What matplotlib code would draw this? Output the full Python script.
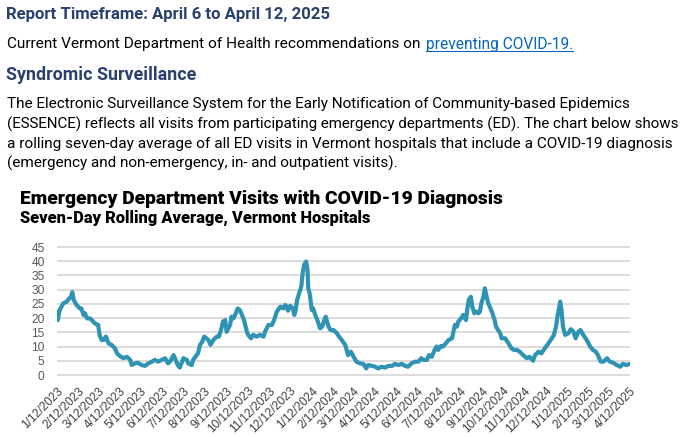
import matplotlib
matplotlib.use("Agg")
import matplotlib.pyplot as plt
from matplotlib.lines import Line2D
import pandas as pd

W, H = 681, 437

# text of the page above the chart
report_title = "Report Timeframe: April 6 to April 12, 2025"
recs_text = "Current Vermont Department of Health recommendations on"
recs_link = "preventing COVID-19."
section_title = "Syndromic Surveillance"
paragraph = [
    "The Electronic Surveillance System for the Early Notification of Community-based Epidemics",
    "(ESSENCE) reflects all visits from participating emergency departments (ED). The chart below shows",
    "a rolling seven-day average of all ED visits in Vermont hospitals that include a COVID-19 diagnosis",
    "(emergency and non-emergency, in- and outpatient visits).",
]
chart_title = "Emergency Department Visits with COVID-19 Diagnosis"
chart_subtitle = "Seven-Day Rolling Average, Vermont Hospitals"

# series: days after 1/12/2023, seven-day average of ED visits
start = pd.Timestamp("2023-01-12")
day = [0, 1, 4, 9, 14, 16, 20, 22, 24, 28, 33, 35, 38, 40, 43, 47, 50, 54, 59, 61,
       64, 67, 70, 74, 78, 83, 86, 90, 95, 100, 105, 107, 112, 116, 121, 126, 131, 136, 140, 145,
       150, 155, 159, 162, 167, 169, 173, 176, 181, 186, 188, 193, 195, 200, 202, 205, 208, 211, 214, 217,
       220, 224, 229, 232, 235, 238, 241, 243, 248, 250, 253, 255, 259, 262, 265, 268, 272, 274, 278, 281,
       286, 291, 296, 298, 303, 308, 311, 315, 320, 324, 327, 329, 331, 334, 338, 340, 342, 344, 347, 350,
       352, 354, 357, 359, 360, 362, 365, 367, 370, 373, 377, 380, 383, 385, 389, 392, 396, 401, 404, 408,
       413, 417, 421, 425, 429, 434, 439, 443, 446, 451, 456, 460, 465, 470, 475, 480, 484, 489, 494, 499,
       503, 508, 513, 518, 522, 525, 530, 533, 537, 541, 544, 546, 550, 553, 557, 561, 566, 568, 570, 573,
       575, 579, 582, 586, 588, 590, 593, 595, 598, 601, 604, 606, 608, 611, 613, 616, 618, 620, 623, 627,
       629, 632, 635, 637, 642, 647, 651, 655, 659, 663, 668, 673, 677, 682, 685, 690, 694, 699, 704, 709,
       712, 715, 717, 721, 723, 725, 728, 733, 736, 740, 743, 747, 750, 754, 759, 764, 768, 772, 775, 779,
       783, 788, 792, 797, 802, 807, 811, 816, 821]
visits = [22.0, 19.3, 22.9, 25.2, 25.8, 26.5, 27.5, 29.1, 26.4, 24.6, 23.4, 23.4, 21.1, 21.7, 19.9, 19.9, 19.3, 18.2, 17.6, 14.1,
          12.3, 12.3, 13.5, 11.1, 10.6, 9.4, 7.6, 6.7, 5.9, 6.4, 5.3, 3.5, 4.1, 4.3, 3.5, 3.2, 4.1, 4.7, 5.3, 4.7,
          5.3, 5.9, 4.1, 4.7, 7.0, 5.9, 3.5, 2.6, 5.9, 5.3, 4.1, 3.5, 5.3, 7.0, 7.6, 10.6, 11.7, 13.5, 12.9, 12.3,
          10.6, 12.3, 13.5, 13.5, 15.8, 18.8, 19.3, 15.2, 17.6, 20.5, 19.9, 21.1, 23.4, 22.8, 21.1, 19.3, 15.2, 14.1, 12.9, 14.1,
          13.5, 14.1, 13.5, 15.2, 17.6, 17.6, 19.3, 22.3, 24.0, 23.4, 24.6, 24.0, 22.6, 24.3, 23.4, 21.1, 22.9, 26.4, 28.7, 31.1,
          35.8, 38.7, 39.9, 36.9, 30.5, 28.7, 22.9, 23.4, 21.1, 19.3, 16.4, 17.0, 19.3, 20.5, 17.0, 15.8, 15.8, 14.7, 13.5, 12.3,
          10.6, 7.0, 8.2, 6.4, 4.7, 4.1, 3.9, 2.3, 3.5, 3.2, 2.9, 2.3, 2.9, 2.6, 3.2, 3.2, 3.9, 3.5, 3.9, 3.2,
          2.9, 4.1, 4.7, 4.7, 5.9, 5.3, 5.3, 7.0, 6.4, 8.8, 10.0, 8.8, 10.2, 10.0, 11.1, 12.3, 12.9, 15.2, 17.6, 17.0,
          18.8, 19.9, 21.1, 19.3, 23.4, 26.4, 27.5, 24.0, 21.7, 22.3, 21.7, 22.3, 25.2, 27.5, 30.5, 27.0, 25.2, 24.0, 22.3, 19.3,
          17.0, 15.8, 14.7, 12.9, 12.9, 11.1, 9.4, 8.8, 8.8, 8.2, 7.0, 5.9, 6.4, 5.0, 7.0, 8.2, 7.6, 9.4, 11.1, 12.9,
          14.1, 17.0, 20.5, 25.8, 22.3, 17.0, 14.1, 14.7, 16.1, 15.2, 12.9, 15.2, 15.8, 14.1, 12.3, 10.0, 8.8, 8.2, 7.0, 4.7,
          4.7, 5.9, 4.7, 4.3, 3.5, 2.9, 3.9, 3.5, 3.9]
y_ticks = [0, 5, 10, 15, 20, 25, 30, 35, 40, 45]

dates = start + pd.to_timedelta(day, unit="D")
tick_dates = pd.date_range("2023-01-12", "2025-04-12", freq=pd.DateOffset(months=1))
tick_labels = [f"{d.month}/{d.day}/{d.year}" for d in tick_dates]

fig = plt.figure(figsize=(W / 100, H / 100), dpi=100)
fig.patch.set_facecolor("white")
renderer = fig.canvas.get_renderer()

narrow = ["Liberation Sans Narrow", "Roboto", "DejaVu Sans"]


def put_text(x, y, s, width, **kw):
    # place text at pixel coords and scale its font so it spans the given width
    t = fig.text(x / W, 1 - y / H, s, va="center", ha="left", **kw)
    w = t.get_window_extent(renderer).width
    t.set_fontsize(t.get_fontsize() * width / w)
    return t


navy = "#2a4170"
put_text(6, 15, report_title, 326, family=narrow, weight="bold", color=navy, fontsize=14)
put_text(7, 44, recs_text, 412, family=narrow, color="black", fontsize=11)
link = put_text(426, 44, recs_link, 147, family=narrow, color="#0563c1", fontsize=11)
bb = link.get_window_extent(renderer)
fig.add_artist(Line2D([bb.x0 / W, bb.x1 / W], [(H - 51) / H, (H - 51) / H],
                      color="#0563c1", lw=0.8))
put_text(6, 75, section_title, 190, family=narrow, weight="bold", color=navy, fontsize=14)
line_y = [104, 124, 144, 163]
line_w = [620, 672, 661, 389]
for s, yy, ww in zip(paragraph, line_y, line_w):
    put_text(7, yy, s, ww, family=narrow, color="black", fontsize=11)

put_text(20, 199, chart_title, 483, family=["Roboto", "DejaVu Sans"], weight="heavy",
         color="black", fontsize=13)
put_text(20, 218, chart_subtitle, 350, family=["Roboto", "DejaVu Sans"], weight="heavy",
         color="black", fontsize=10)

# chart area in pixel terms: x 57..630, y value 0 at 375 and 45 at 247
ppu = 128 / 45
bottom = 375 + 0.6 * ppu
top = 247 - 0.6 * ppu
ax = fig.add_axes([57 / W, (H - bottom) / H, 573 / W, (bottom - top) / H])
ax.plot(dates, visits, color="#2f93b3", lw=3.0, solid_joinstyle="round")
ax.set_xlim(tick_dates[0], tick_dates[-1])
ax.set_ylim(-0.6, 45.6)
ax.set_yticks(y_ticks)
ax.set_xticks(tick_dates)
ax.set_xticklabels(tick_labels, rotation=45, ha="right", rotation_mode="anchor")
for y in y_ticks:
    ax.axhline(y, color="#d9d9d9", lw=1.3, zorder=0)
for s in ax.spines.values():
    s.set_visible(False)
ax.tick_params(axis="both", length=0, labelsize=8.6)
ax.tick_params(axis="y", pad=9, colors="#595959")
ax.tick_params(axis="x", pad=6, colors="#404040")
for lab in ax.get_xticklabels() + ax.get_yticklabels():
    lab.set_family(["Liberation Sans", "DejaVu Sans"])
ax.set_facecolor("none")

fig.savefig("out.png", dpi=100, facecolor="white")
